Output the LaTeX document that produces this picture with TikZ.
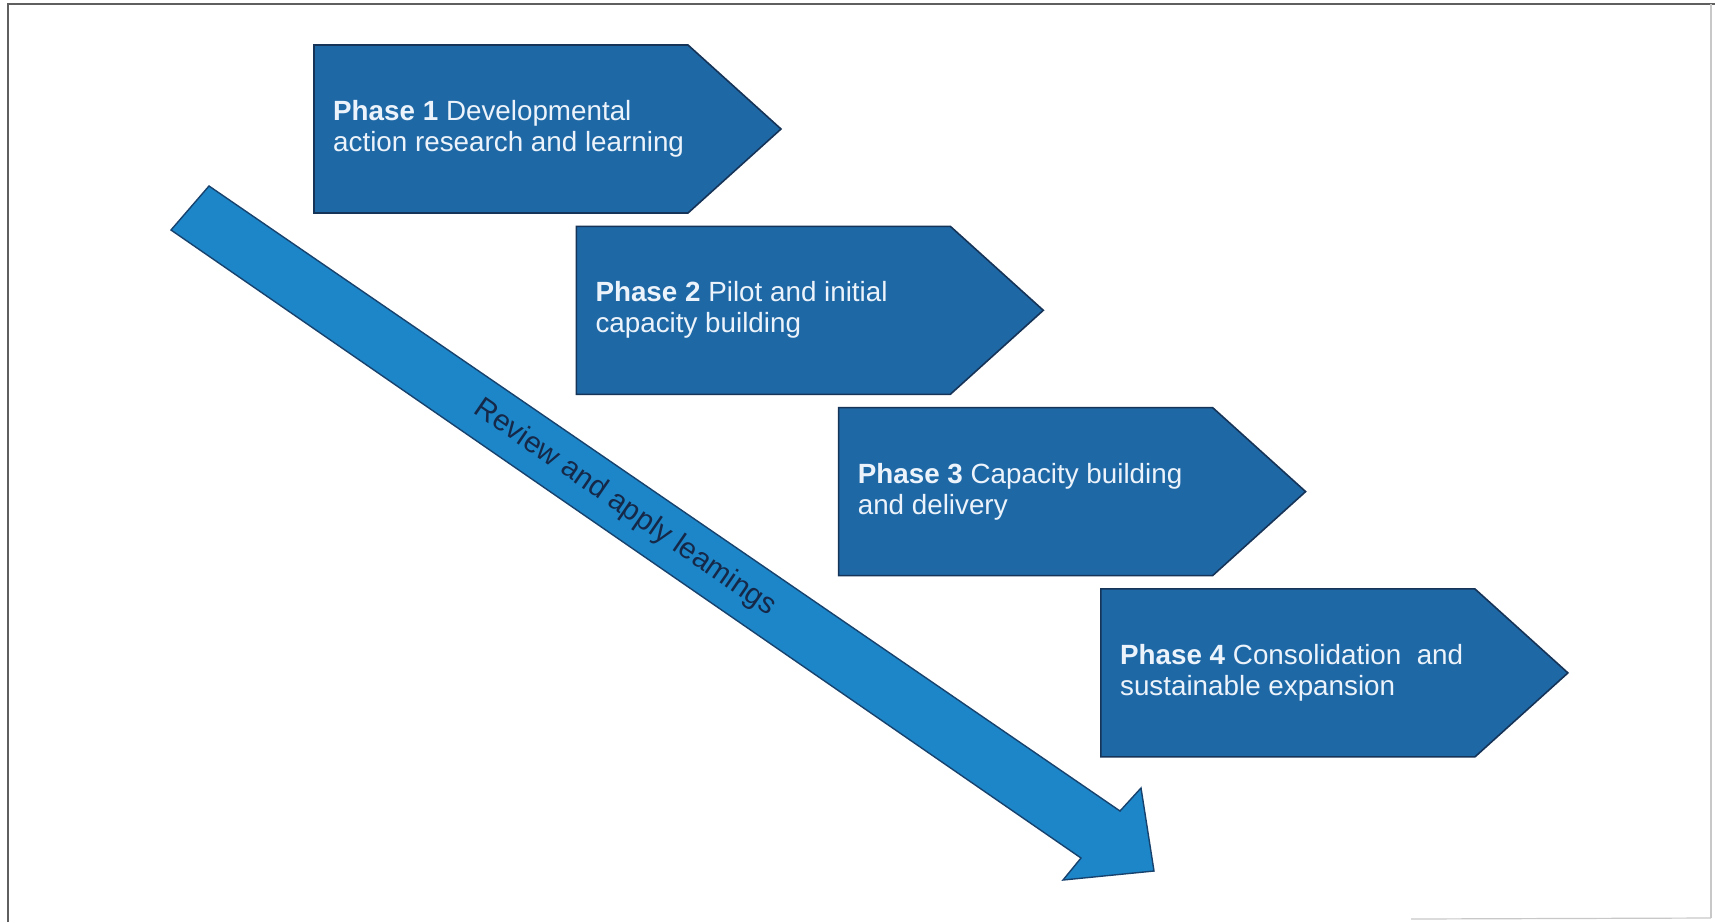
\documentclass[tikz,border=0pt]{standalone}
\usepackage{fontspec}
\setmainfont{Liberation Sans}
\usetikzlibrary{calc}
\definecolor{boxblue}{RGB}{30,104,166}
\definecolor{boxedge}{RGB}{22,52,88}
\definecolor{arrowblue}{RGB}{28,134,200}
\definecolor{arrowedge}{RGB}{24,66,110}
\definecolor{phasewhite}{RGB}{236,243,250}
\definecolor{labelnavy}{RGB}{22,40,72}
\definecolor{framegray}{RGB}{95,95,95}
\definecolor{framelight}{RGB}{200,200,200}
\begin{document}
\begin{tikzpicture}[x=1pt,y=-1pt,
  phasebox/.style={fill=boxblue, draw=boxedge, line width=1.6pt, line join=miter},
  phasetext/.style={anchor=west, align=left, text=phasewhite, inner sep=0pt,
    font=\fontsize{27.8}{31}\selectfont},
  bigarrow/.style={fill=arrowblue, draw=arrowedge, line width=1.4pt, line join=miter},
  arrowlabel/.style={text=labelnavy, inner sep=0pt, font=\fontsize{29.5}{32}\selectfont},
  framedark/.style={draw=framegray, line width=2pt},
  framefaint/.style={draw=framelight, line width=1.2pt}]
\useasboundingbox (0,0) rectangle (1715,922);
\fill[white] (0,0) rectangle (1715,922);

% outer frame
\coordinate (fTL) at (8,4);
\coordinate (fTR) at (1715,4);
\coordinate (fBL) at (8,922);
\coordinate (fR1) at (1711,4);
\coordinate (fR2) at (1711,918);
\coordinate (fB1) at (1411,919);
\draw[framedark] (fBL) -- (fTL) -- (fTR);
\draw[framefaint] (fR1) -- (fR2);
\draw[framefaint] (fB1) -- (fR2);

% review arrow running diagonally under the phases
\coordinate (aTailTop) at (209,186);
\coordinate (aNeckTop) at (1120,811);
\coordinate (aBarbTop) at (1141,788);
\coordinate (aTip)     at (1154,871);
\coordinate (aBarbBot) at (1063,880);
\coordinate (aNeckBot) at (1081,858);
\coordinate (aTailBot) at (171,230);
\draw[bigarrow] (aTailTop) -- (aNeckTop) -- (aBarbTop) -- (aTip)
  -- (aBarbBot) -- (aNeckBot) -- (aTailBot) -- cycle;
\node[arrowlabel, rotate=-34.5] (review) at (625,508) {Review and apply leamings};

% the four phase arrows
\foreach \i/\txt in {
  1/{\textbf{Phase 1} Developmental\\action research and learning},
  2/{\textbf{Phase 2} Pilot and initial\\capacity building},
  3/{\textbf{Phase 3} Capacity building\\and delivery},
  4/{\textbf{Phase 4} Consolidation\ \ and\\sustainable expansion}} {
  \coordinate (p\i) at ({314+262.3*(\i-1)},{45+181.3*(\i-1)});
  \draw[phasebox] (p\i) -- ++(374,0) -- ++(93,84) -- ++(-93,84) -- ++(-374,0) -- cycle;
  \node[phasetext] (t\i) at ($(p\i)+(19,84)$) {\txt};
}
\end{tikzpicture}
\end{document}
